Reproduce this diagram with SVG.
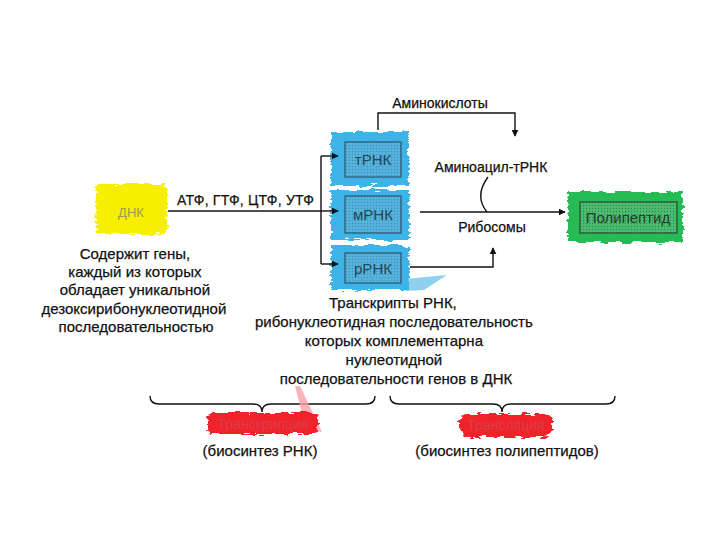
<svg xmlns="http://www.w3.org/2000/svg" width="720" height="540" viewBox="0 0 720 540">
<style>
text{font-family:"Liberation Sans",Arial,sans-serif;fill:#111;stroke:#111;stroke-width:0.25}
.t{font-size:15px}
.lbl{font-size:14px;text-anchor:middle}
.box{font-size:15px;text-anchor:middle;fill:#22445a;stroke:none}
.ln{fill:none;stroke:#111;stroke-width:1.4}
.blue{fill:#3db3e8}
.inb{fill:url(#dotB);stroke:#2a5670;stroke-width:1.2}
</style>
<defs>
<filter id="rough" x="-15%" y="-25%" width="130%" height="150%">
<feTurbulence type="fractalNoise" baseFrequency="0.09 0.35" numOctaves="2" seed="4" result="n"/>
<feDisplacementMap in="SourceGraphic" in2="n" scale="8" xChannelSelector="R" yChannelSelector="G"/>
</filter>
<pattern id="dotB" width="3" height="3" patternUnits="userSpaceOnUse">
<rect width="3" height="3" fill="#56b4dc"/><circle cx="1.5" cy="1.5" r="0.7" fill="#3a90b8"/>
</pattern>
<pattern id="dotG" width="3" height="3" patternUnits="userSpaceOnUse">
<rect width="3" height="3" fill="#4cbc6e"/><circle cx="1.5" cy="1.5" r="0.7" fill="#2f8a4e"/>
</pattern>
<marker id="ah" viewBox="0 0 10 10" refX="9" refY="5" markerWidth="7" markerHeight="7" orient="auto" markerUnits="userSpaceOnUse">
<path d="M0,0 L10,5 L0,10 z" fill="#111"/>
</marker>
</defs>
<rect width="720" height="540" fill="#fff"/>

<g id="dnk">
<rect x="96" y="184" width="71" height="50" rx="5" fill="#f6ef00" filter="url(#rough)"/>
<text x="131" y="217" class="box" style="fill:#9c9a58;font-size:13px">ДНК</text>
</g>

<g id="trnk">
<rect x="331" y="132" width="78" height="54" class="blue" filter="url(#rough)"/>
<rect x="345" y="142" width="56" height="35" class="inb"/>
<text x="373" y="165" class="box">тРНК</text>
</g>
<g id="mrnk">
<rect x="331" y="190" width="78" height="50" class="blue" filter="url(#rough)"/>
<rect x="345" y="196" width="56" height="37" class="inb"/>
<text x="373" y="220" class="box">мРНК</text>
</g>
<g id="rrnk">
<polygon points="405,279 447,275 424,290 405,291" fill="#8fd0ee"/>
<rect x="331" y="245" width="78" height="45" class="blue" filter="url(#rough)"/>
<rect x="345" y="253" width="56" height="30" class="inb"/>
<text x="373" y="274" class="box">рРНК</text>
</g>
<g id="polipeptid">
<rect x="568" y="192" width="115" height="50" fill="#27bb55" filter="url(#rough)"/>
<rect x="580" y="202" width="97" height="31" fill="url(#dotG)" stroke="#2d4a38" stroke-width="1.2"/>
<text x="628" y="223" class="box" style="fill:#263c2e">Полипептид</text>
</g>

<g id="connectors">
<path class="ln" d="M168,211 H321"/>
<path class="ln" d="M321,156 V264"/>
<path class="ln" d="M321,156 H338" marker-end="url(#ah)"/>
<path class="ln" d="M321,211 H338" marker-end="url(#ah)"/>
<path class="ln" d="M321,264 H338" marker-end="url(#ah)"/>
<path class="ln" d="M378,130 V113 H515 V136" marker-end="url(#ah)"/>
<path class="ln" d="M420,212 H565" marker-end="url(#ah)"/>
<path class="ln" d="M488,177 Q474,196 487,212"/>
<path class="ln" d="M410,267 H493 V248" marker-end="url(#ah)"/>
<path class="ln" d="M150,396 q0,8 9,8 H253 q9,0 9,8 q0,-8 9,-8 H366 q9,0 9,-8"/>
<path class="ln" d="M390,396 q0,8 9,8 H493 q9,0 9,8 q0,-8 9,-8 H606 q9,0 9,-8"/>
</g>

<g id="labels">
<text x="177" y="205" class="t" style="font-size:14px" textLength="137">АТФ, ГТФ, ЦТФ, УТФ</text>
<text x="440" y="108" class="lbl">Аминокислоты</text>
<text x="491" y="172" class="lbl">Аминоацил-тРНК</text>
<text x="492" y="232" class="lbl">Рибосомы</text>
<text class="lbl" style="font-size:15px">
<tspan x="137" y="259">Содержит гены,</tspan>
<tspan x="137" y="277">каждый из которых</tspan>
<tspan x="137" y="295">обладает уникальной</tspan>
<tspan x="136" y="314">дезоксирибонуклеотидной</tspan>
<tspan x="136" y="332">последовательностью</tspan>
</text>
<text class="lbl" style="font-size:15px">
<tspan x="395" y="308">Транскрипты РНК,</tspan>
<tspan x="396" y="327">рибонуклеотидная последовательность</tspan>
<tspan x="396" y="346">которых комплементарна</tspan>
<tspan x="396" y="365">нуклеотидной</tspan>
<tspan x="396" y="384">последовательности генов в ДНК</tspan>
</text>
</g>

<g id="transkripciya">
<polygon points="295,386 300,386 322,432 306,430" fill="#f7a0a8" opacity="0.8"/>
<rect x="208" y="413" width="110" height="21" rx="4" fill="#f0222c" filter="url(#rough)"/>
<text x="263" y="429" class="lbl" style="fill:#d6404a;stroke:none">Транскрипция</text>
<text x="260" y="456" class="lbl" style="font-size:15px">(биосинтез РНК)</text>
</g>
<g id="translyaciya">
<rect x="460" y="414" width="92" height="23" rx="8" fill="#f0222c" filter="url(#rough)"/>
<text x="506" y="430" class="lbl" style="fill:#d6404a;stroke:none">Трансляция</text>
<text x="507" y="456" class="lbl" style="font-size:15px">(биосинтез полипептидов)</text>
</g>
</svg>
